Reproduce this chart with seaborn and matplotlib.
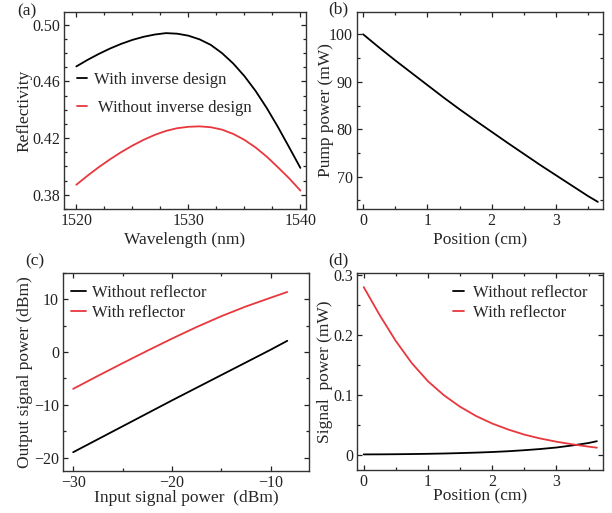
import numpy as np
import pandas as pd
import matplotlib
matplotlib.use("Agg")
import matplotlib.pyplot as plt
from matplotlib.ticker import MultipleLocator, FixedLocator
import seaborn as sns

# ---------------- data ----------------
# (a) reflectivity vs wavelength
wl = [1520, 1521, 1522, 1523, 1524, 1525, 1526, 1527, 1528, 1529, 1530,
      1531, 1532, 1533, 1534, 1535, 1536, 1537, 1538, 1539, 1540]
refl_inverse = [0.4706, 0.4752, 0.4794, 0.4832, 0.4865, 0.4893, 0.4915, 0.4931,
                0.4941, 0.4937, 0.4923, 0.4897, 0.4858, 0.4800, 0.4727, 0.4638,
                0.4533, 0.4412, 0.4278, 0.4135, 0.3990]
refl_plain = [0.3871, 0.3935, 0.3995, 0.4050, 0.4101, 0.4147, 0.4188, 0.4223,
              0.4251, 0.4270, 0.4280, 0.4283, 0.4277, 0.4260, 0.4230, 0.4188,
              0.4134, 0.4069, 0.3994, 0.3916, 0.3830]
a_yticks = [0.38, 0.42, 0.46, 0.50]

# (b) pump power vs position
pos_b = [0, 0.25, 0.5, 0.75, 1.0, 1.25, 1.5, 1.75, 2.0, 2.25, 2.5, 2.75, 3.0,
         3.25, 3.5, 3.65]
pump = [100, 97.2, 94.5, 91.9, 89.3, 86.7, 84.2, 81.8, 79.45, 77.1, 74.8, 72.5,
        70.3, 68.1, 65.9, 64.7]

# (c) output vs input signal power
pin = [-30, -27.5, -25, -22.5, -20, -17.5, -15, -12.5, -10, -8.3]
pout_without = [-19.0, -16.55, -14.1, -11.65, -9.2, -6.8, -4.4, -2.0, 0.4, 2.1]
pout_with = [-7.0, -4.55, -2.15, 0.2, 2.5, 4.7, 6.75, 8.6, 10.25, 11.35]

# (d) signal power vs position
pos_d = [0, 0.25, 0.5, 0.75, 1.0, 1.25, 1.5, 1.75, 2.0, 2.25, 2.5, 2.75, 3.0,
         3.25, 3.5, 3.63]
sig_with = [0.280, 0.233, 0.190, 0.153, 0.123, 0.0995, 0.0805, 0.065, 0.0525,
            0.0425, 0.034, 0.0275, 0.0222, 0.0178, 0.0140, 0.0122]
sig_without = [0.0010, 0.0011, 0.0013, 0.0016, 0.0020, 0.0025, 0.0032, 0.0040,
               0.0050, 0.0063, 0.0080, 0.0100, 0.0125, 0.0160, 0.0200, 0.0230]

BLACK = "#000000"
RED = "#e8373d"

# ---------------- style ----------------
sns.set_theme(style="ticks")
plt.rcParams["font.family"] = ["Liberation Serif", "DejaVu Serif"]
plt.rcParams["axes.linewidth"] = 1.0
plt.rcParams["axes.edgecolor"] = "#333333"
plt.rcParams["lines.solid_joinstyle"] = "round"

fig = plt.figure(figsize=(6.12, 5.13), dpi=100)
W, H = 612.0, 513.0


def add_ax(l, t, r, b):
    return fig.add_axes([l / W, 1 - b / H, (r - l) / W, (b - t) / H])


axa = add_ax(64, 12, 306, 209)
axb = add_ax(356.7, 12, 603, 209)
axc = add_ax(63.3, 272.7, 309, 470.7)
axd = add_ax(357.3, 273.3, 603.3, 470)

LW = 1.3
TICKFS = 11.5
LABFS = 12.5
LEGFS = 12


def style(ax):
    ax.tick_params(which="both", direction="in", top=True, right=True,
                   labelsize=TICKFS, colors="#222222", width=0.9)
    ax.tick_params(which="major", length=3.5, pad=3)
    ax.tick_params(which="minor", length=2.5)
    for s in ax.spines.values():
        s.set_visible(True)
        s.set_color("#333333")


# ---- (a)
df_a = pd.DataFrame({"wl": wl + wl,
                     "R": refl_inverse + refl_plain,
                     "s": ["With inverse design"] * len(wl) + [" Without inverse design"] * len(wl)})
sns.lineplot(data=df_a, x="wl", y="R", hue="s", palette=[BLACK, RED], ax=axa,
             linewidth=LW, legend=True)
axa.set_xlim(1518.9, 1540.5)
axa.set_ylim(0.370, 0.509)
axa.xaxis.set_major_locator(MultipleLocator(10))
axa.xaxis.set_minor_locator(MultipleLocator(2.5))
axa.yaxis.set_major_locator(FixedLocator(a_yticks))
axa.yaxis.set_minor_locator(MultipleLocator(0.01))
axa.yaxis.set_major_formatter(matplotlib.ticker.FormatStrFormatter("%.2f"))
axa.set_xlabel("Wavelength (nm)", fontsize=LABFS)
axa.set_ylabel("Reflectivity", fontsize=LABFS)
style(axa)
axa.legend(frameon=False, loc="upper left", bbox_to_anchor=(0.054, 0.695),
           borderpad=0, borderaxespad=0, handlelength=0.62, handletextpad=0.4,
           labelspacing=0.7, fontsize=LEGFS)

# ---- (b)
df_b = pd.DataFrame({"x": pos_b, "y": pump})
sns.lineplot(data=df_b, x="x", y="y", color=BLACK, ax=axb, linewidth=LW)
axb.set_xlim(-0.10, 3.73)
axb.set_ylim(63.2, 104.7)
axb.xaxis.set_major_locator(MultipleLocator(1))
axb.xaxis.set_minor_locator(MultipleLocator(0.5))
axb.yaxis.set_major_locator(MultipleLocator(10))
axb.yaxis.set_minor_locator(MultipleLocator(5))
axb.set_xlabel("Position (cm)", fontsize=LABFS)
axb.set_ylabel("Pump power (mW)", fontsize=LABFS)
style(axb)

# ---- (c)
df_c = pd.DataFrame({"x": pin + pin,
                     "y": pout_without + pout_with,
                     "s": ["Without reflector"] * len(pin) + ["With reflector"] * len(pin)})
sns.lineplot(data=df_c, x="x", y="y", hue="s", palette=[BLACK, RED], ax=axc,
             linewidth=LW)
axc.set_xlim(-31.0, -6.1)
axc.set_ylim(-22.5, 15.0)
axc.xaxis.set_major_locator(MultipleLocator(10))
axc.xaxis.set_minor_locator(MultipleLocator(5))
axc.yaxis.set_major_locator(MultipleLocator(10))
axc.yaxis.set_minor_locator(MultipleLocator(5))
axc.set_xlabel("Input signal power  (dBm)", fontsize=LABFS)
axc.set_ylabel("Output signal power (dBm)", fontsize=LABFS)
style(axc)
axc.legend(frameon=False, loc="upper left", bbox_to_anchor=(0.031, 0.938),
           borderpad=0, borderaxespad=0, handlelength=0.9, handletextpad=0.35,
           labelspacing=0.22, fontsize=LEGFS)

# ---- (d)
df_d = pd.DataFrame({"x": pos_d + pos_d,
                     "y": sig_without + sig_with,
                     "s": ["Without reflector"] * len(pos_d) + ["With reflector"] * len(pos_d)})
sns.lineplot(data=df_d, x="x", y="y", hue="s", palette=[BLACK, RED], ax=axd,
             linewidth=LW)
axd.set_xlim(-0.10, 3.73)
axd.set_ylim(-0.025, 0.303)
axd.xaxis.set_major_locator(MultipleLocator(1))
axd.xaxis.set_minor_locator(MultipleLocator(0.5))
axd.yaxis.set_major_locator(MultipleLocator(0.1))
axd.yaxis.set_minor_locator(MultipleLocator(0.05))
axd.yaxis.set_major_formatter(matplotlib.ticker.FuncFormatter(
    lambda v, p: "0" if abs(v) < 1e-9 else f"{v:.1f}"))
axd.set_xlabel("Position (cm)", fontsize=LABFS)
axd.set_ylabel("Signal  power (mW)", fontsize=LABFS)
style(axd)
axd.legend(frameon=False, loc="upper left", bbox_to_anchor=(0.388, 0.941),
           borderpad=0, borderaxespad=0, handlelength=0.7, handletextpad=0.5,
           labelspacing=0.22, fontsize=LEGFS)


# label positions (absolute pixel centres)
def place_labels(ax, box, ylab_x, xlab_y):
    l, t, r, b = box
    ax.xaxis.label.set_verticalalignment("center")
    ax.yaxis.label.set_verticalalignment("center")
    ax.xaxis.set_label_coords(0.5, (b - xlab_y) / (b - t))
    ax.yaxis.set_label_coords((ylab_x - l) / (r - l), 0.5)


place_labels(axa, (64, 12, 306, 209), 24, 240)
place_labels(axb, (356.7, 12, 603, 209), 326.5, 240)
place_labels(axc, (63.3, 272.7, 309, 470.7), 25.5, 498)
place_labels(axd, (357.3, 273.3, 603.3, 470), 325, 496.7)

for txt, x, y in [("(a)", 17, 11), ("(b)", 328, 9.5), ("(c)", 25, 261.7), ("(d)", 328, 260.8)]:
    fig.text(x / W, 1 - y / H, txt, ha="left", va="center", fontsize=LABFS,
             color="#222222")

fig.savefig("out.png", dpi=100)
